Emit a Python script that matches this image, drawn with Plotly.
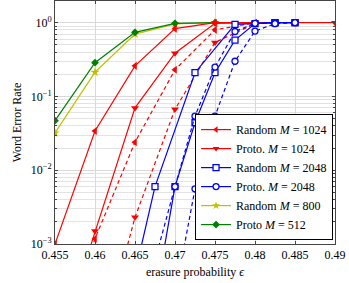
import plotly.graph_objects as go

# ---- data ----
eps_r1 = [0.455, 0.46, 0.465, 0.47, 0.475, 0.48]
wer_r1 = [1.0e-3, 0.034, 0.26, 0.83, 1.0, 1.0]          # Random M=1024 (solid)

eps_r2 = [0.455, 0.46, 0.465, 0.47, 0.475, 0.48, 0.485, 0.49]
wer_r2 = [3e-5, 0.0015, 0.07, 0.385, 0.98, 1.0, 1.0, 1.0]  # Proto. M=1024 (solid)

eps_r3 = [0.455, 0.46, 0.465, 0.47, 0.475, 0.48]
wer_r3 = [2e-5, 0.00118, 0.024, 0.23, 0.80, 1.0]          # Random M=1024 (dashed)

eps_r4 = [0.46, 0.465, 0.47, 0.475, 0.48, 0.485]
wer_r4 = [2.2e-5, 0.0023, 0.067, 0.54, 0.97, 1.0]          # Proto. M=1024 (dashed)

eps_b1 = [0.465, 0.4675, 0.4725, 0.4775, 0.4825, 0.485]
wer_b1 = [4e-4, 0.006, 0.21, 0.95, 1.0, 1.0]               # Random M=2048 (solid)

eps_b2 = [0.4675, 0.47, 0.4725, 0.475, 0.4775, 0.48, 0.4825, 0.485]
wer_b2 = [1.7e-4, 0.006, 0.044, 0.21, 0.58, 0.97, 1.0, 1.0]  # Random M=2048 (solid, 2nd)

eps_b3 = [0.4675, 0.47, 0.4725, 0.475, 0.4775, 0.48, 0.4825]
wer_b3 = [6e-4, 0.006, 0.054, 0.25, 0.76, 0.98, 1.0]       # Proto. M=2048 (dashed)

eps_b4 = [0.47, 0.4725, 0.475, 0.4775, 0.48, 0.4825, 0.485]
wer_b4 = [2e-4, 0.0056, 0.054, 0.30, 0.77, 0.97, 1.0]      # Proto. M=2048 (dashed, 2nd)

eps_y = [0.455, 0.46, 0.465, 0.47, 0.475]
wer_y = [0.032, 0.213, 0.70, 0.96, 1.0]                    # Random M=800

eps_g = [0.455, 0.46, 0.465, 0.47, 0.475]
wer_g = [0.047, 0.287, 0.74, 0.98, 1.0]                    # Proto M=512

x_ticks = [0.455, 0.46, 0.465, 0.47, 0.475, 0.48, 0.485, 0.49]
x_ticktext = ["0.455", "0.46", "0.465", "0.47", "0.475", "0.48", "0.485", "0.49"]
y_ticks = [1e-3, 1e-2, 1e-1, 1]
y_ticktext = ["10<sup>−3</sup>", "10<sup>−2</sup>", "10<sup>−1</sup>", "10<sup>0</sup>"]

legend_names = ["Random <i>M</i> = 1024", "Proto. <i>M</i> = 1024",
                "Random <i>M</i> = 2048", "Proto. <i>M</i> = 2048",
                "Random <i>M</i> = 800", "Proto <i>M</i> = 512"]

RED, BLUE, YEL, GRN = "#ff0000", "#0000ff", "#bfbf00", "#008000"
DASH = "4px,3px"
FONT = "Liberation Serif, DejaVu Serif, serif"

fig = go.Figure()

def add(x, y, color, symbol, dash="solid", msize=6, mline=None):
    marker = dict(symbol=symbol, size=msize, color=color)
    if mline is not None:
        marker.update(mline)
    fig.add_trace(go.Scatter(x=x, y=y, mode="lines+markers",
                             line=dict(color=color, width=1.2, dash=dash),
                             marker=marker, showlegend=False, hoverinfo="skip"))

hollow = lambda c: dict(color="white", line=dict(color=c, width=1.3))

add(eps_y, wer_y, YEL, "star", msize=7)
add(eps_g, wer_g, GRN, "diamond", msize=6)
add(eps_r1, wer_r1, RED, "triangle-left", msize=7)
add(eps_r3, wer_r3, RED, "triangle-left", dash=DASH, msize=7)
add(eps_r2, wer_r2, RED, "triangle-down", msize=7)
add(eps_r4, wer_r4, RED, "triangle-down", dash=DASH, msize=7)
add(eps_b1, wer_b1, BLUE, "square", msize=6, mline=hollow(BLUE))
add(eps_b2, wer_b2, BLUE, "square", msize=6, mline=hollow(BLUE))
add(eps_b3, wer_b3, BLUE, "circle", dash=DASH, msize=6, mline=hollow(BLUE))
add(eps_b4, wer_b4, BLUE, "circle", dash=DASH, msize=6, mline=hollow(BLUE))

# legend entries (solid lines, as in the reference legend)
leg_styles = [(RED, "triangle-left", None), (RED, "triangle-down", None),
              (BLUE, "square", hollow(BLUE)), (BLUE, "circle", hollow(BLUE)),
              (YEL, "star", None), (GRN, "diamond", None)]
for name, (c, s, ml) in zip(legend_names, leg_styles):
    mk = dict(symbol=s, size=6, color=c)
    if ml is not None:
        mk.update(ml)
    fig.add_trace(go.Scatter(x=[None], y=[None], mode="lines+markers", name=name,
                             line=dict(color=c, width=1.2), marker=mk))

minor_vals = [m * 10.0 ** k for k in range(-3, 1) for m in range(2, 10)]

fig.update_layout(
    width=349, height=283,
    margin=dict(l=55, r=14, t=1, b=39, autoexpand=False),
    paper_bgcolor="white", plot_bgcolor="white",
    font=dict(family=FONT, size=12, color="black"),
    legend=dict(x=0.993, y=0.016, xanchor="right", yanchor="bottom",
                bgcolor="white", bordercolor="black", borderwidth=1,
                font=dict(size=12), tracegroupgap=0, itemwidth=30),
    xaxis=dict(range=[0.455, 0.49], tickvals=x_ticks, ticktext=x_ticktext,
               automargin=False, ticklabeloverflow="allow",
               showgrid=True, gridcolor="#d9d9d9", gridwidth=1,
               showline=True, linecolor="#444", linewidth=1, mirror="allticks",
               ticks="inside", ticklen=3, tickcolor="#444", zeroline=False,
               title=dict(text="erasure probability <i>ϵ</i>", standoff=6,
                          font=dict(size=12))),
    yaxis=dict(type="log", range=[-3, 0.294], tickvals=y_ticks, ticktext=y_ticktext,
               automargin=False,
               showgrid=True, gridcolor="#d9d9d9", gridwidth=1,
               showline=True, linecolor="#444", linewidth=1, mirror="allticks",
               ticks="inside", ticklen=3, tickcolor="#444", zeroline=False,
               minor=dict(tickvals=minor_vals, showgrid=True, gridcolor="#e3e3e3",
                          ticks="inside", ticklen=2, tickcolor="#444"),
               title=dict(text="Word Error Rate", standoff=6, font=dict(size=12))),
)

fig.write_html("out.html", config={"displayModeBar": False},
               post_script="document.body.style.margin='0';document.body.style.padding='0';")
